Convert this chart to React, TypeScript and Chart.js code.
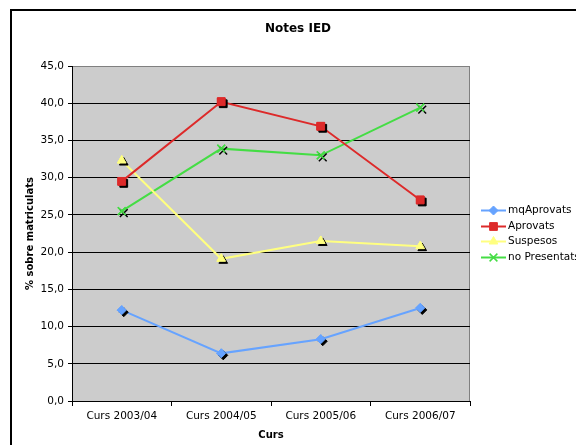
import React, { useEffect, useRef } from 'react';
import { Chart, registerables } from 'chart.js';
import { drawPoint } from 'chart.js/helpers';

Chart.register(...registerables);

const TITLE = 'Notes IED';
const X_TITLE = 'Curs';
const Y_TITLE = '% sobre matriculats';

const categories = ['Curs 2003/04', 'Curs 2004/05', 'Curs 2005/06', 'Curs 2006/07'];
const seriesNames = ['mqAprovats', 'Aprovats', 'Suspesos', 'no Presentats'];
const mqAprovats = [12.2, 6.4, 8.3, 12.5];
const aprovats = [29.5, 40.2, 36.9, 27.0];
const suspesos = [32.3, 19.1, 21.5, 20.8];
const noPresentats = [25.5, 33.9, 33.0, 39.4];
const yMin = 0;
const yMax = 45;
const yStep = 5;

const FONT = "'DejaVu Sans', Verdana, sans-serif";
const FS = 10.5;

const plotBgPlugin = {
  id: 'plotBg',
  beforeDraw(chart: any) {
    const { ctx, chartArea: a } = chart;
    ctx.save();
    ctx.fillStyle = '#cccccc';
    ctx.fillRect(a.left, a.top, a.right - a.left, a.bottom - a.top);
    ctx.strokeStyle = '#808080';
    ctx.lineWidth = 1;
    ctx.strokeRect(Math.round(a.left) + 0.5, Math.round(a.top) + 0.5, Math.round(a.right - a.left) - 1, Math.round(a.bottom - a.top));
    ctx.restore();
  },
};

const shadowPlugin = {
  id: 'markerShadow',
  afterDatasetsDraw(chart: any) {
    const ctx = chart.ctx;
    chart.data.datasets.forEach((_ds: any, i: number) => {
      const meta = chart.getDatasetMeta(i);
      meta.data.forEach((pt: any) => {
        const o = pt.options;
        ctx.save();
        ctx.fillStyle = '#000';
        ctx.strokeStyle = '#000';
        ctx.lineWidth = o.borderWidth;
        drawPoint(ctx, { pointStyle: o.pointStyle, radius: o.radius, rotation: o.rotation, borderWidth: o.borderWidth } as any, pt.x + 2, pt.y + 2);
        ctx.restore();
      });
      meta.data.forEach((pt: any) => pt.draw(ctx, chart.chartArea));
    });
  },
};

const decorPlugin = {
  id: 'decor',
  afterDraw(chart: any) {
    const { ctx, chartArea: a } = chart;
    ctx.save();
    ctx.fillStyle = '#000';
    ctx.font = `bold 12px ${FONT}`;
    ctx.textAlign = 'center';
    ctx.textBaseline = 'middle';
    ctx.fillText(TITLE, 298, 29);
    const n = chart.data.datasets.length;
    const spacing = 15.5;
    const cy = (a.top + a.bottom) / 2;
    const y0 = cy - ((n - 1) * spacing) / 2;
    chart.data.datasets.forEach((ds: any, i: number) => {
      const y = Math.round(y0 + i * spacing) + 0.5;
      ctx.strokeStyle = ds.borderColor;
      ctx.lineWidth = 2;
      ctx.beginPath();
      ctx.moveTo(481, y);
      ctx.lineTo(506, y);
      ctx.stroke();
      ctx.fillStyle = ds.pointBackgroundColor;
      ctx.strokeStyle = ds.pointBorderColor;
      ctx.lineWidth = ds.pointBorderWidth;
      drawPoint(ctx, { pointStyle: ds.pointStyle, radius: ds.pointRadius, rotation: 0, borderWidth: ds.pointBorderWidth } as any, 493.5, y);
      ctx.fillStyle = '#000';
      ctx.font = `${FS}px ${FONT}`;
      ctx.textAlign = 'left';
      ctx.textBaseline = 'middle';
      ctx.fillText(ds.label, 508, y);
    });
    ctx.restore();
  },
};

function mkDataset(label: string, data: number[], color: string, style: string, radius: number, bw: number) {
  return {
    label,
    data,
    borderColor: color,
    backgroundColor: color,
    borderWidth: 2,
    pointStyle: style,
    pointRadius: radius,
    pointBackgroundColor: color,
    pointBorderColor: color,
    pointBorderWidth: bw,
    tension: 0,
    fill: false,
  };
}

export default function App() {
  const ref = useRef<HTMLCanvasElement | null>(null);
  useEffect(() => {
    if (!ref.current) return;
    Chart.defaults.font.family = FONT;
    Chart.defaults.font.size = FS;
    Chart.defaults.color = '#000';
    const chart = new Chart(ref.current, {
      type: 'line',
      data: {
        labels: categories,
        datasets: [
          mkDataset(seriesNames[0], mqAprovats, '#66a3ff', 'rectRot', 4.5, 1),
          mkDataset(seriesNames[1], aprovats, '#dd2a2a', 'rect', 5.5, 1),
          mkDataset(seriesNames[2], suspesos, '#ffff80', 'triangle', 5, 1),
          mkDataset(seriesNames[3], noPresentats, '#44dd44', 'crossRot', 5.5, 1.5),
        ] as any,
      },
      options: {
        responsive: false,
        animation: false,
        layout: { padding: { left: 20, top: 66, right: 106, bottom: 0 } },
        plugins: {
          legend: { display: false },
          title: { display: false },
          tooltip: { enabled: false },
        },
        scales: {
          x: {
            type: 'category',
            offset: true,
            grid: { offset: true, drawOnChartArea: false, drawTicks: true, tickLength: 5, color: '#000', lineWidth: 1 },
            border: { display: true, color: '#000', width: 1 },
            ticks: { color: '#000', padding: 4, maxRotation: 0, autoSkip: false, font: { size: FS } },
            title: { display: true, text: X_TITLE, color: '#000', font: { size: 10, weight: 'bold' }, padding: { top: 4, bottom: 4 } },
            afterFit: (s: any) => { s.height = 44; },
          },
          y: {
            min: yMin,
            max: yMax,
            ticks: {
              stepSize: yStep,
              color: '#000',
              padding: 4,
              font: { size: FS },
              callback: (v: any) => Number(v).toFixed(1).replace('.', ','),
            },
            grid: {
              color: (c: any) => (c.tick && c.tick.value === yMax ? '#808080' : '#000'),
              tickColor: '#000',
              tickLength: 4,
              lineWidth: 1,
            },
            border: { display: true, color: '#000', width: 1 },
            title: { display: true, text: Y_TITLE, color: '#000', font: { size: 10, weight: 'bold' }, padding: { top: 4, bottom: 4 } },
            afterFit: (s: any) => { s.width = 52; },
          },
        } as any,
      },
      plugins: [plotBgPlugin, shadowPlugin, decorPlugin],
    });
    return () => chart.destroy();
  }, []);

  return (
    <div style={{ position: 'fixed', left: 0, top: 0, width: 576, height: 445, overflow: 'hidden', background: '#fff' }}>
      <div style={{ position: 'absolute', left: 10, top: 9, width: 600, height: 480, border: '2px solid #000', boxSizing: 'border-box' }} />
      <canvas ref={ref} width={576} height={445} style={{ position: 'absolute', left: 0, top: 0, width: 576, height: 445 }} />
    </div>
  );
}
